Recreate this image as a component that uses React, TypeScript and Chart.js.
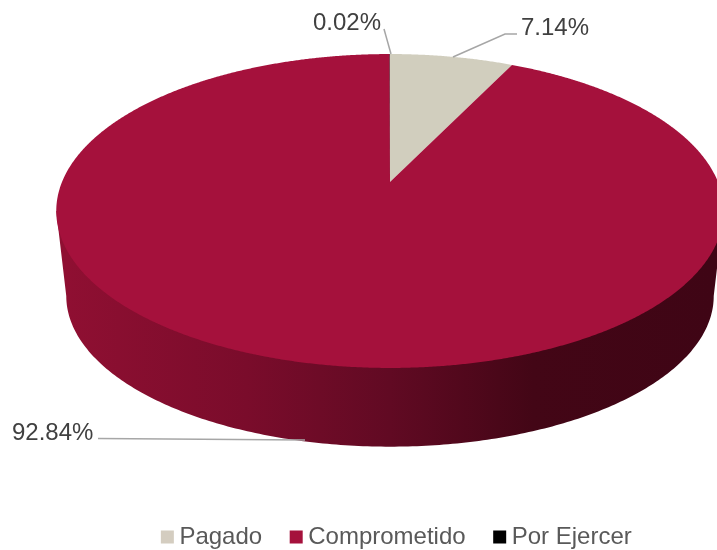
import React, { useEffect, useRef } from "react";
import { Chart, registerables } from "chart.js";

Chart.register(...registerables);

const categories = ["Pagado", "Comprometido", "Por Ejercer"];
const shares = [7.14, 92.84, 0.02];
const colors = ["#d1cebe", "#a5113c", "#000000"];
const legendColors = ["#d4cdc0", "#a5113c", "#000000"];

const WIDTH = 717;
const HEIGHT = 550;
const FONT = "'Liberation Sans', Arial, sans-serif";

const view = { cx: 390, apexY: 182, faceMidY: 211, a: 151.6, b: 328, k: 0.1847 };
const rim = { scale: 0.97, scaleY: 0.96, midY: 296 };
const sideStops: [number, string][] = [
  [0, "#8f0f32"],
  [0.28, "#7a0c2b"],
  [0.5, "#610a23"],
  [0.72, "#430616"],
  [1, "#3f0515"],
];

const labelSpots = [
  { text: 0, x: 521, y: 35, line: [[453, 57], [505, 34], [517, 34]] },
  { text: 1, x: 12, y: 440, line: [[98, 438.5], [305, 440]] },
  { text: 2, x: 313, y: 30, line: [[384, 29], [391, 54]] },
];

function top(phi: number): [number, number] {
  const d = 1 + view.k * Math.cos(phi);
  return [view.cx + (view.b * Math.sin(phi)) / d, view.apexY - (view.a * Math.cos(phi)) / d];
}

function bottom(phi: number): [number, number] {
  const [x, y] = top(phi);
  return [view.cx + rim.scale * (x - view.cx), rim.midY + rim.scaleY * (y - view.faceMidY)];
}

const piePerspective = {
  id: "piePerspective",
  afterLayout(chart: any) {
    const lg = chart.legend;
    lg.left = 133.3;
    lg.right = WIDTH + 40;
    lg.top += 9;
    lg.bottom += 9;
  },
  beforeDatasetsDraw(chart: any) {
    const ctx: CanvasRenderingContext2D = chart.ctx;
    const arcs = chart.getDatasetMeta(0).data;
    const toPhi = (angle: number) => angle + Math.PI / 2;
    const edge = Math.acos(-view.k);

    const grad = ctx.createLinearGradient(rim.scale * -334 + view.cx, 0, rim.scale * 334 + view.cx, 0);
    sideStops.forEach(([o, c]) => grad.addColorStop(o, c));
    ctx.save();
    ctx.beginPath();
    let p = top(edge);
    ctx.moveTo(p[0], p[1]);
    const steps = 240;
    for (let i = 0; i <= steps; i++) {
      const phi = edge + ((2 * Math.PI - 2 * edge) * i) / steps;
      p = bottom(phi);
      ctx.lineTo(p[0], p[1]);
    }
    p = top(2 * Math.PI - edge);
    ctx.lineTo(p[0], p[1]);
    ctx.closePath();
    ctx.fillStyle = grad;
    ctx.fill();
    ctx.restore();

    arcs.forEach((arc: any, i: number) => {
      const s = toPhi(arc.startAngle);
      const e = toPhi(arc.endAngle);
      const n = Math.max(2, Math.ceil((e - s) / 0.005));
      ctx.beginPath();
      let q = top(0);
      ctx.moveTo(view.cx, view.apexY);
      for (let j = 0; j <= n; j++) {
        q = top(s + ((e - s) * j) / n);
        ctx.lineTo(q[0], q[1]);
      }
      ctx.closePath();
      ctx.fillStyle = colors[i];
      ctx.fill();
    });

    ctx.save();
    labelSpots.forEach((spot) => {
      ctx.beginPath();
      spot.line.forEach((pt, j) => (j ? ctx.lineTo(pt[0], pt[1]) : ctx.moveTo(pt[0], pt[1])));
      ctx.strokeStyle = "#a6a6a6";
      ctx.lineWidth = 1.5;
      ctx.stroke();
      ctx.fillStyle = "#404040";
      ctx.font = `24px ${FONT}`;
      ctx.textAlign = "left";
      ctx.textBaseline = "alphabetic";
      ctx.fillText(`${shares[spot.text].toFixed(2)}%`, spot.x, spot.y);
    });
    ctx.restore();
    return false;
  },
};

export default function App() {
  const ref = useRef<HTMLCanvasElement>(null);
  useEffect(() => {
    const chart = new Chart(ref.current!, {
      type: "pie",
      data: {
        labels: categories,
        datasets: [{ data: shares, backgroundColor: legendColors, borderWidth: 0 }],
      },
      options: {
        responsive: false,
        animation: false,
        plugins: {
          title: { display: false },
          tooltip: { enabled: false },
          legend: {
            display: true,
            position: "bottom",
            align: "start",
            labels: {
              usePointStyle: true,
              pointStyle: "rect",
              boxWidth: 0.1,
              boxHeight: 13,
              padding: 34,
              color: "#595959",
              font: { family: FONT, size: 24 },
            },
          },
        },
      },
      plugins: [piePerspective],
    });
    return () => chart.destroy();
  }, []);
  return (
    <div style={{ position: "fixed", left: 0, top: 0, width: WIDTH, height: HEIGHT, overflow: "hidden", background: "#fff" }}>
      <canvas ref={ref} width={WIDTH} height={HEIGHT} style={{ display: "block" }} />
    </div>
  );
}
